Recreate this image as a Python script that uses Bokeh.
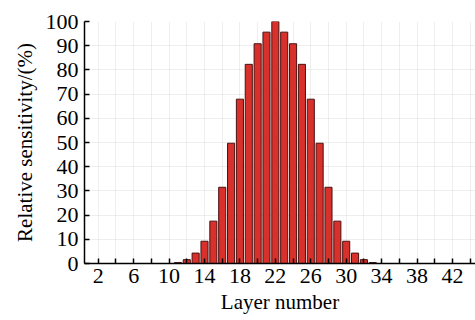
from bokeh.plotting import figure
from bokeh.models import FixedTicker, Range1d, ColumnDataSource
from bokeh.embed import file_html
from bokeh.resources import INLINE

layers = list(range(1, 45))
sensitivity = [0]*10 + [0.4, 1.6, 4.3, 9.2, 17.5, 31.5, 49.7, 67.9, 82.3, 90.8, 95.6, 100,
               95.6, 90.8, 82.3, 67.9, 49.7, 31.5, 17.5, 9.2, 4.3, 1.6, 0.4] + [0]*11
x_major = [2, 6, 10, 14, 18, 22, 26, 30, 34, 38, 42]
x_minor = [4, 8, 12, 16, 20, 24, 28, 32, 36, 40, 44]
y_ticks = [0, 10, 20, 30, 40, 50, 60, 70, 80, 90, 100]

FONT = "Liberation Serif"

p = figure(width=475, height=320, output_backend="svg", toolbar_location=None,
           x_range=Range1d(0.45, 44.6), y_range=Range1d(0, 100),
           min_border_left=84, min_border_right=0, min_border_top=21, min_border_bottom=57)
p.outline_line_color = None

src = ColumnDataSource(dict(x=layers, top=sensitivity))
p.vbar(x="x", top="top", width=0.8, bottom=0, source=src,
       fill_color="#d8302b", line_color="#4a1212", line_width=1)

p.xaxis.ticker = FixedTicker(ticks=x_major, minor_ticks=x_minor)
p.yaxis.ticker = FixedTicker(ticks=y_ticks)
for ax in (p.xaxis, p.yaxis):
    ax.axis_line_color = "black"
    ax.axis_line_width = 1.5
    ax.major_tick_in = 5
    ax.major_tick_out = 0
    ax.major_tick_line_color = "black"
    ax.major_tick_line_width = 1.5
    ax.minor_tick_in = 5
    ax.minor_tick_out = 0
    ax.minor_tick_line_color = "black"
    ax.minor_tick_line_width = 1.5
    ax.major_label_text_font = FONT
    ax.major_label_text_font_size = "22px"
    ax.major_label_text_color = "black"
    ax.axis_label_text_font = FONT
    ax.axis_label_text_font_size = "21px"
    ax.axis_label_text_font_style = "normal"
    ax.axis_label_text_color = "black"
p.yaxis.minor_tick_line_color = None
p.xaxis.axis_label = "Layer number"
p.yaxis.axis_label = "Relative sensitivity/(%)"
p.xaxis.major_label_standoff = 5
p.yaxis.major_label_standoff = 6
p.xaxis.axis_label_standoff = 4
p.yaxis.axis_label_standoff = 6

p.xgrid.ticker = FixedTicker(ticks=x_major + x_minor)
p.xgrid.grid_line_color = "#dcdcdc"
p.xgrid.grid_line_dash = "1 1"
p.ygrid.grid_line_color = "#dcdcdc"
p.ygrid.grid_line_dash = "1 1"

open("out.html", "w").write(file_html(p, INLINE))
